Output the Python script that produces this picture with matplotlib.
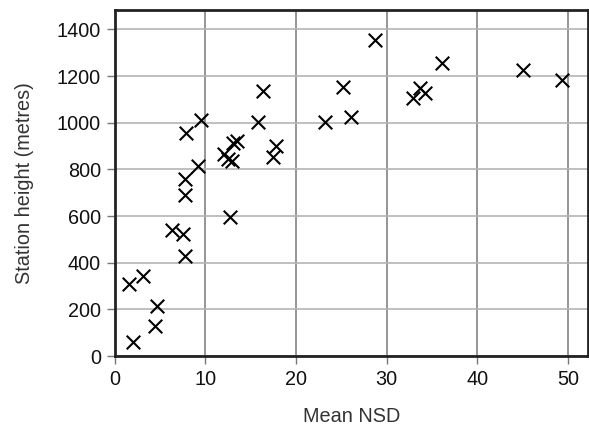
import matplotlib
matplotlib.use("Agg")
from matplotlib import pyplot as plt

plt.rcParams["font.family"] = ["Liberation Sans", "DejaVu Sans"]

# Mean NSD vs station height
mean_nsd = [1.6, 2.0, 3.1, 4.4, 4.6, 6.3, 7.5, 7.7, 7.7, 7.7, 7.8, 9.2, 9.5,
            12.1, 12.5, 12.7, 12.9, 13.0, 13.5, 15.8, 16.4, 17.5, 17.8,
            23.2, 25.2, 26.1, 28.7, 32.9, 33.7, 34.2, 36.1, 45.1, 49.4]
height_m = [307, 60, 343, 128, 214, 542, 522, 428, 692, 757, 956, 814, 1012,
            866, 843, 598, 838, 912, 922, 1002, 1135, 855, 902,
            1003, 1152, 1025, 1356, 1108, 1148, 1128, 1256, 1225, 1185]

fig = plt.figure(figsize=(5.89, 4.26), dpi=100)
ax = fig.add_axes([0.195, 0.164, 0.803, 0.812])

ax.scatter(mean_nsd, height_m, marker="x", s=95, color="black", linewidths=1.5, zorder=3)

ax.set_xlim(0, 52.2)
ax.set_ylim(0, 1482)
ax.set_xticks([0, 10, 20, 30, 40, 50])
ax.set_yticks(range(0, 1401, 200))

ax.xaxis.grid(True, color="#8c8c8c", linewidth=1.3)
ax.yaxis.grid(True, color="#b4b4b4", linewidth=1.2)
ax.set_axisbelow(True)

for s in ax.spines.values():
    s.set_color("#222222")
    s.set_linewidth(2)

ax.tick_params(direction="out", length=6, width=1, color="#777777",
               labelsize=14.3, labelcolor="#111111", pad=4)

ax.set_xlabel("Mean NSD", fontsize=14.3, color="#333333", labelpad=13)
ax.set_ylabel("Station height (metres)", fontsize=14.3, color="#333333", labelpad=16)

fig.savefig("out.png", dpi=100)
